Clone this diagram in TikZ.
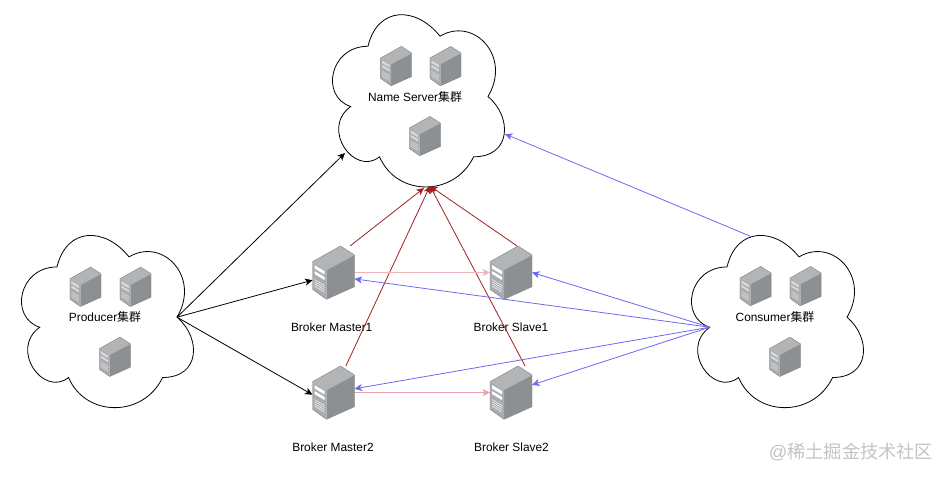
\documentclass[tikz,border=0pt]{standalone}
\usepackage{fontspec}
\setmainfont{Liberation Sans}
\newfontfamily\cjk{Noto Sans CJK SC}
\usetikzlibrary{arrows.meta, calc}
\definecolor{srvtop}{RGB}{178, 180, 182}
\definecolor{srvleft}{RGB}{170, 172, 175}
\definecolor{srvright}{RGB}{141, 144, 147}
\definecolor{srvedge}{RGB}{128, 130, 132}
\definecolor{mqblue}{RGB}{108, 104, 240}
\definecolor{mqred}{RGB}{160, 32, 32}
\definecolor{mqpink}{RGB}{232, 160, 170}
\definecolor{wmgray}{RGB}{195, 195, 195}
\colorlet{srvbar}{white}
\tikzset{
  lbl/.style={font=\fontsize{11.9}{13}\selectfont, inner sep=0pt},
  srvbox/.style={minimum width=42pt, minimum height=53pt, inner sep=0pt, outer sep=0pt},
  link/.style={line width=0.8pt, -{Stealth[length=7.5pt, width=7pt, inset=2pt]}},
  server/.pic={
    \fill[srvtop] (7,-26.5) -- (21,-17.5) -- (-7,-2.5) -- (-21,-10.8) -- cycle;
    \fill[srvleft] (-21,-10.8) -- (-7,-2.5) -- (-7,26.8) -- (-21,16.8) -- cycle;
    \fill[srvright] (21,-17.5) -- (21,14.2) -- (-7,26.8) -- (-7,-2.5) -- cycle;
    % bars
    \fill[srvbar] (-19,-7.5) -- (-9,-1.5) -- (-9,2) -- (-19,-4) -- cycle;
    \fill[srvbar] (-19,-1.5) -- (-9,4.5) -- (-9,7.5) -- (-19,1.5) -- cycle;
    \foreach \k in {0,2.2,4.4,6.6}
      \draw[srvbar, line width=0.5pt] (-19,7+\k) -- (-9,13+\k);
    \draw[srvedge, line width=0.4pt, line join=round] (7,-26.5) -- (21,-17.5) -- (21,14.2) -- (-7,26.8) -- (-21,16.8) -- (-21,-10.8) -- cycle;
    \draw[srvedge!60, line width=0.3pt] (-21,-10.8) -- (-7,-2.5) -- (21,-17.5) (-7,-2.5) -- (-7,26.8);
  },
  cloudpic/.pic={
    \draw[line width=0.8pt, x=1.92pt, y=-2.01pt] (25,25)
      .. controls (5,25) and (0,50) .. (16,55)
      .. controls (0,66) and (18,90) .. (31,80)
      .. controls (40,100) and (70,100) .. (80,80)
      .. controls (100,80) and (100,60) .. (87.5,50)
      .. controls (100,30) and (80,10) .. (62.5,20)
      .. controls (50,5) and (30,5) .. (25,25) -- cycle;
    \coordinate (-e) at (168,100.5);
    \coordinate (-w) at (30.7,110.5);
    \coordinate (-s) at (110,190);
    \coordinate (-sl) at (104,192);
    \coordinate (-sw) at (25,157);
    \coordinate (-se) at (185,138);
    \coordinate (-n) at (72.5,20);
  }
}

\begin{document}
\begin{tikzpicture}[x=1pt, y=-1pt]
  \useasboundingbox (0,0) rectangle (947,479);

  % clouds
  \pic (ns) at (320,-4) {cloudpic};
  \pic (pc) at (9,216.7) {cloudpic};
  \pic (cc) at (679,216.7) {cloudpic};

  \node[lbl] (nslbl) at (415,96.5) {Name Server{\cjk 集群}};
  \node[lbl] (pclbl) at (105,317) {Producer{\cjk 集群}};
  \node[lbl] (cclbl) at (775,316.7) {Consumer{\cjk 集群}};

  % small servers
  \colorlet{srvbar}{white!55!srvleft}
  \foreach \px/\py in {396.2/66, 445.5/66, 424.8/136, 85.5/286.7, 135.5/286.7, 114.8/356.7, 755.5/286, 805.5/286, 784.8/356.7}
    \pic[scale=0.74] at (\px,\py) {server};
  \colorlet{srvbar}{white}

  % brokers
  \node[srvbox] (m1) at (333.5,272.5) {};
  \node[srvbox] (s1) at (511,272.5) {};
  \node[srvbox] (m2) at (333.5,392.5) {};
  \node[srvbox] (s2) at (511,392.5) {};
  \foreach \b in {m1,s1,m2,s2}
    \pic at (\b) {server};

  \node[lbl] (m1lbl) at (331.7,327) {Broker Master1};
  \node[lbl] (s1lbl) at (511,327) {Broker Slave1};
  \node[lbl] (m2lbl) at (333,447) {Broker Master2};
  \node[lbl] (s2lbl) at (511.5,447) {Broker Slave2};

  % producer
  \draw[link] (pc-e) -- (ns-sw);
  \draw[link] (pc-e) -- (m1.200);
  \draw[link] (pc-e) -- (m2.186);

  % brokers to name server
  \draw[link, mqred] (m1.58) -- (ns-sl);
  \draw[link, mqred] (m2.65) -- (ns-s);
  \draw[link, mqred] (s1.77) -- (ns-s);
  \draw[link, mqred] (s2.62) -- (ns-s);

  % master to slave
  \draw[link, mqpink!80] (m1.east) -- (s1.west);
  \draw[link, mqpink] (m2.east) -- (s2.west);

  % consumer
  \draw[link, mqblue] (cc-n) -- (ns-se);
  \draw[link, mqblue] (cc-w) -- (s1.east);
  \draw[link, mqblue] (cc-w) -- (m1.-17);
  \draw[link, mqblue] (cc-w) -- (m2.10);
  \draw[link, mqblue] (cc-w) -- (s2.20);

  \node[font=\fontsize{18.2}{20}\selectfont, text=wmgray, inner sep=0pt] (wm) at (851,452) {@{\cjk 稀土掘金技术社区}};
\end{tikzpicture}
\end{document}
